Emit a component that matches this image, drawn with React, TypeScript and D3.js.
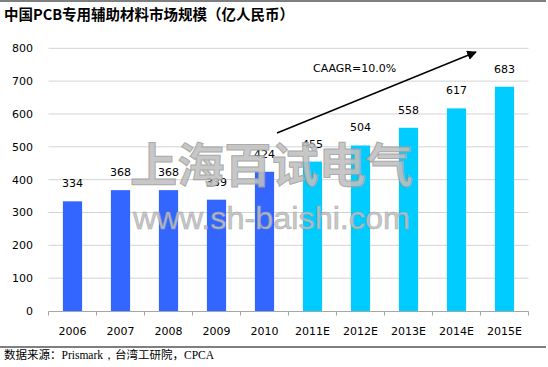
import React from "react";
import * as d3 from "d3";

const years = ["2006", "2007", "2008", "2009", "2010", "2011E", "2012E", "2013E", "2014E", "2015E"];
const values = [334, 368, 368, 339, 424, 455, 504, 558, 617, 683];
const forecast = [false, false, false, false, false, true, true, true, true, true];
const yTicks = [0, 100, 200, 300, 400, 500, 600, 700, 800];

const W = 548;
const H = 367;
const num = "'DejaVu Sans', Verdana, sans-serif";
const cjk = "'Noto Sans CJK SC', sans-serif";

export default function App() {
  // plot area
  const x = d3.scaleBand().domain(years).range([48.5, 528.5]).paddingInner(0.6).paddingOuter(0.3);
  const y = d3.scaleLinear().domain([0, 800]).range([311, 48.3]);
  const step = x.step();

  return (
    <svg width={W} height={H} style={{ position: "absolute", left: 0, top: 0, background: "#fff" }}>
      <defs>
        <marker id="arr" viewBox="0 0 10 10" refX="9" refY="5" markerWidth="7" markerHeight="7" orient="auto">
          <path d="M0,0 L10,5 L0,10 z" fill="#000" />
        </marker>
      </defs>
      <line x1={0} x2={546} y1={1} y2={1} stroke="#000" strokeWidth={1.2} />
      <text x={4} y={20} fontFamily={cjk} fontWeight="bold" fontSize={14.5}>
        中国PCB专用辅助材料市场规模（亿人民币）
      </text>

      {/* gridlines */}
      {yTicks.map((t) => (
        <g key={t}>
          {t > 0 && <line x1={48.5} x2={528.5} y1={y(t)} y2={y(t)} stroke="#d4d4d4" />}
          <text x={33} y={y(t)} dy="0.35em" textAnchor="end" fontFamily={num} fontSize={11}>
            {t}
          </text>
        </g>
      ))}

      {/* bars */}
      {years.map((yr, i) => (
        <g key={yr}>
          <rect
            x={x(yr)}
            y={y(values[i])}
            width={x.bandwidth()}
            height={y(0) - y(values[i])}
            fill={forecast[i] ? "#00CCFF" : "#3366FF"}
          />
          <text
            x={x(yr)! + x.bandwidth() / 2}
            y={y(values[i]) - 14}
            textAnchor="middle"
            fontFamily={num}
            fontSize={11}
          >
            {values[i]}
          </text>
          <text x={x(yr)! + x.bandwidth() / 2} y={335} textAnchor="middle" fontFamily={num} fontSize={11}>
            {yr}
          </text>
        </g>
      ))}

      {/* x axis */}
      <line x1={48.5} x2={528.5} y1={311.5} y2={311.5} stroke="#a6a6a6" />
      {d3.range(years.length + 1).map((i) => (
        <line key={i} x1={48.5 + i * step} x2={48.5 + i * step} y1={311.5} y2={315.5} stroke="#a6a6a6" />
      ))}

      {/* growth arrow */}
      <line x1={277} y1={133} x2={476} y2={52} stroke="#000" strokeWidth={1.4} markerEnd="url(#arr)" />
      <text x={313} y={72} fontFamily={num} fontSize={11}>
        CAAGR=10.0%
      </text>

      {/* watermark */}
      <g opacity={0.88}>
        <text
          x={130}
          y={182}
          fontFamily={cjk}
          fontWeight="bold"
          fontSize={47}
          fill="#c0c0c0"
          stroke="#a0a0a0"
          strokeWidth={1}
          textLength={283}
          lengthAdjust="spacingAndGlyphs"
        >
          上海百试电气
        </text>
        <text
          x={133}
          y={229}
          fontFamily="'Liberation Sans', Arial, sans-serif"
          fontSize={31}
          fill="#c0c0c0"
          stroke="#a0a0a0"
          strokeWidth={0.5}
          textLength={277}
          lengthAdjust="spacingAndGlyphs"
        >
          www.sh-baishi.com
        </text>
      </g>

      <line x1={0} x2={546} y1={347} y2={347} stroke="#000" strokeWidth={1.2} />
      <text x={4} y={359} fontFamily={cjk} fontSize={11.5}>
        数据来源：
        <tspan fontFamily="'Liberation Serif', serif">Prismark，</tspan>
        台湾工研院，
        <tspan fontFamily="'Liberation Serif', serif">CPCA</tspan>
      </text>
    </svg>
  );
}
